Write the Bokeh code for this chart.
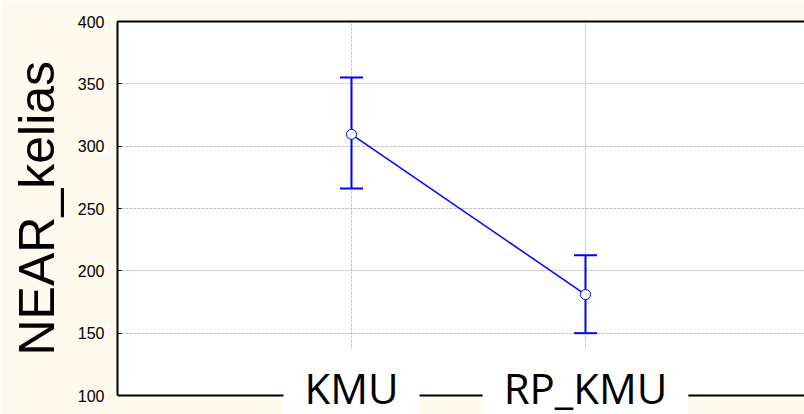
from bokeh.plotting import figure
from bokeh.models import Range1d, FixedTicker, LinearAxis, Whisker, TeeHead, ColumnDataSource, Label, Span, BoxAnnotation, Title
from bokeh.embed import file_html
from bokeh.resources import INLINE

categories = ["KMU", "RP_KMU"]
positions = [1, 2]
means = [309.5, 181.0]
upper = [355.0, 212.5]
lower = [266.0, 150.0]
y_ticks = [100, 150, 200, 250, 300, 350, 400]
grid_ticks = [150, 200, 250, 300, 350]
y_min, y_max = 100, 400

BG = "#FEFAEE"
BLUE = "#0000FF"

src = ColumnDataSource(dict(x=positions, mean=means, upper=upper, lower=lower))

# frame runs to the bottom edge; the part below y_min is painted as page background
p = figure(width=804, height=414, output_backend="svg", toolbar_location=None,
           x_range=Range1d(0, 2.936), y_range=Range1d(84.76, y_max),
           min_border_left=117, min_border_right=0, min_border_top=21, min_border_bottom=0)
p.background_fill_color = "white"
p.border_fill_color = BG
p.outline_line_color = None

# y axis
p.yaxis.ticker = FixedTicker(ticks=y_ticks)
p.yaxis.bounds = (y_min, y_max)
p.yaxis.major_label_text_font = "Liberation Sans"
p.yaxis.major_label_text_font_size = "16px"
p.yaxis.major_label_text_color = "black"
p.yaxis.major_label_standoff = 13
p.yaxis.major_tick_in = 4
p.yaxis.major_tick_out = 0
p.yaxis.minor_tick_line_color = None
p.yaxis.axis_line_width = 2
p.yaxis.axis_line_color = "black"
p.yaxis.major_tick_line_color = "black"

ylab = Title(text="NEAR_kelias", align="left", offset=59, standoff=16, vertical_align="top",
             text_font="Liberation Sans", text_font_size="50px",
             text_font_style="normal", text_color="black")
p.add_layout(ylab, "left")

p.xaxis.visible = False

top = LinearAxis(ticker=FixedTicker(ticks=[]), major_label_text_font_size="0px",
                 major_tick_line_color=None, minor_tick_line_color=None,
                 axis_line_width=2, axis_line_color="black")
p.add_layout(top, "above")

# grid
p.ygrid.ticker = FixedTicker(ticks=grid_ticks)
p.xgrid.ticker = FixedTicker(ticks=positions)
for g in (p.xgrid, p.ygrid):
    g.grid_line_color = "#C4C4C4"
    g.grid_line_dash = "3 1"
    g.grid_line_width = 1

# error bars
w = Whisker(source=src, base="x", upper="upper", lower="lower",
            line_color=BLUE, line_width=2,
            upper_head=TeeHead(size=23, line_color=BLUE, line_width=2),
            lower_head=TeeHead(size=23, line_color=BLUE, line_width=2))
p.add_layout(w)

p.line("x", "mean", source=src, line_color=BLUE, line_width=1.5)
p.scatter("x", "mean", source=src, size=10, fill_color="white", line_color=BLUE, line_width=1)

# area below the x axis in background colour, then the axis line
p.add_layout(BoxAnnotation(top=y_min, fill_color=BG, fill_alpha=1.0, line_color=None))
p.add_layout(Span(location=y_min, dimension="width", line_color="black", line_width=2))

for xc, name in zip(positions, categories):
    lab = Label(x=xc, y=y_min, y_offset=-2, text=name, text_align="center", text_baseline="middle",
                text_font="Open Sans", text_font_size="42px", text_color="black",
                background_fill_color="white",
                padding=dict(left=21, right=21, top=10, bottom=30))
    p.add_layout(lab)

open("out.html", "w").write(file_html(p, INLINE))
